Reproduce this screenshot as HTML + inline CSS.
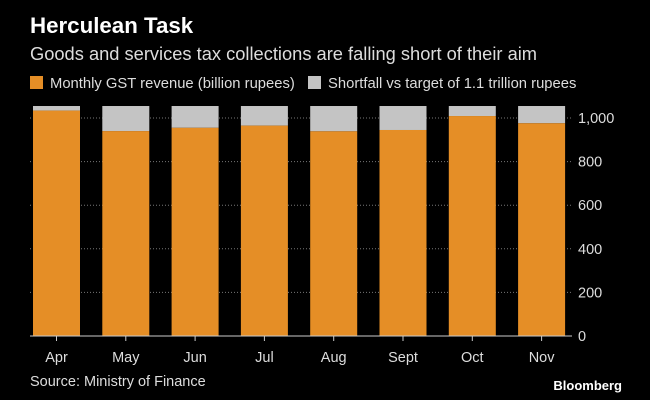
<!DOCTYPE html>
<html><head><meta charset="utf-8"><style>
body{margin:0;background:#000;width:650px;height:400px;overflow:hidden;font-family:"Liberation Sans",sans-serif}
</style></head><body>
<svg width="650" height="400" style="display:block">
<rect width="650" height="400" fill="#000"/>
<text x="30" y="33" fill="#fff" font-size="22.3" font-weight="bold">Herculean Task</text>
<text x="30" y="60" fill="#ddd" font-size="18.3">Goods and services tax collections are falling short of their aim</text>
<g>
<rect x="30" y="76" width="13" height="13" fill="#e58e26"/>
<text x="50" y="88" fill="#ddd" font-size="14.8">Monthly GST revenue (billion rupees)</text>
<rect x="308" y="76" width="13" height="13" fill="#c4c4c4"/>
<text x="328" y="88" fill="#ddd" font-size="14.8">Shortfall vs target of 1.1 trillion rupees</text>
</g>
<g id="grid"></g><g id="bars"></g><g id="axes"></g>
<text x="30" y="386" fill="#ddd" font-size="14.5">Source: Ministry of Finance</text>
<text x="622" y="390" fill="#fff" font-size="13" font-weight="bold" text-anchor="end">Bloomberg</text>
</svg>
<script>
const categories=["Apr","May","Jun","Jul","Aug","Sept","Oct","Nov"];
const revenue=[1034,940,955,965,939,945,1009,976];
const target=[1055,1055,1055,1055,1055,1055,1055,1055];
const ticks=[0,200,400,600,800,1000];
const tickLabels=["0","200","400","600","800","1,000"];
const NS="http://www.w3.org/2000/svg";
const y=v=>336-v*0.218;
const x=i=>33+i*69.3;
const bw=47;
function mk(t,a,p){const e=document.createElementNS(NS,t);for(const k in a)e.setAttribute(k,a[k]);p.appendChild(e);return e;}
const grid=document.getElementById('grid'),bars=document.getElementById('bars'),axes=document.getElementById('axes');
ticks.forEach((t,i)=>{
 if(t>0){const l=mk('line',{x1:30,x2:572,y1:y(t),y2:y(t),stroke:'#777','stroke-dasharray':'1,2'},grid);
 
 }
 const tx=mk('text',{x:578,y:y(t)+5,fill:'#ddd','font-size':14.5},axes);tx.textContent=tickLabels[i];
 
 
});
categories.forEach((c,i)=>{
 const s=mk('rect',{x:x(i),y:y(target[i]),width:bw,height:y(revenue[i])-y(target[i]),fill:'#c4c4c4'},bars);
 
 
 const r=mk('rect',{x:x(i),y:y(revenue[i]),width:bw,height:y(0)-y(revenue[i]),fill:'#e58e26'},bars);
 
 
 const tk=mk('line',{x1:x(i)+bw/2,x2:x(i)+bw/2,y1:336,y2:341,stroke:'#ccc'},axes);
 
 
 const lb=mk('text',{x:x(i)+bw/2,y:362,fill:'#ddd','font-size':14.5,'text-anchor':'middle'},axes);lb.textContent=c;
 
 
});
const base=mk('line',{x1:30,x2:572,y1:336,y2:336,stroke:'#ccc'},axes);


</script>
</body></html>
